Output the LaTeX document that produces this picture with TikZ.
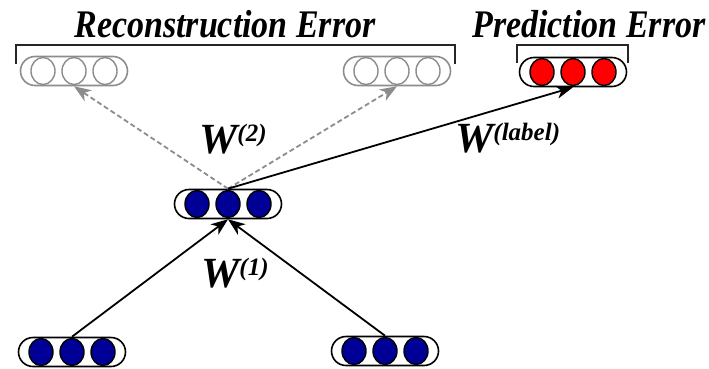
\documentclass[tikz,border=0pt]{standalone}
\usepackage{fontspec}
\setmainfont{Liberation Serif}
\usetikzlibrary{shapes.misc,shapes.geometric,arrows.meta}
\definecolor{unitblue}{RGB}{0,0,150}
\definecolor{unitred}{RGB}{255,0,0}
\definecolor{ghost}{RGB}{140,140,140}
\newcommand\mklayer[5]{%
  \node[#4] (#1) at (#2,#3) {};
  \node[#5] (#1a) at (#2-31,#3) {};
  \node[#5] (#1b) at (#2,#3) {};
  \node[#5] (#1c) at (#2+31,#3) {};
}
\newcommand\wlabel[1]{{\fontsize{43}{43}\selectfont W}\raisebox{12pt}{\fontsize{25}{25}\selectfont #1}}
\newcommand\tallbox[1]{\scalebox{1}[1.15]{#1}}
\begin{document}
\begin{tikzpicture}[x=1pt,y=-1pt,
  layerbox/.style={rounded rectangle, draw=black, line width=1.6pt, minimum width=107pt, minimum height=29pt, inner sep=0pt},
  ghostbox/.style={layerbox, draw=ghost},
  unit/.style={ellipse, draw=black, line width=1.4pt, minimum width=24pt, minimum height=27pt, inner sep=0pt, fill=unitblue},
  redunit/.style={unit, fill=unitred},
  ghostunit/.style={unit, draw=ghost, fill=white},
  title/.style={font=\fontsize{34}{34}\selectfont\bfseries\itshape, inner sep=0pt, anchor=base},
  wtext/.style={font=\bfseries\itshape, inner sep=0pt, anchor=base west},
  bracket/.style={line width=1.8pt, draw=black!85},
  conn/.style={line width=1.8pt, -{Stealth[length=17pt,width=13pt,inset=5pt]}},
  dconn/.style={conn, draw=ghost, dash pattern=on 5pt off 3pt, -{Stealth[length=17pt,width=13pt,inset=5pt,fill=ghost]}},
]
\useasboundingbox (0,0) rectangle (709,368);
\mklayer{bl}{72}{352}{layerbox}{unit}
\mklayer{br}{385}{351}{layerbox}{unit}
\mklayer{m}{228}{204}{layerbox}{unit}
\mklayer{tl}{74}{71}{ghostbox}{ghostunit}
\mklayer{tr}{397}{71}{ghostbox}{ghostunit}
\mklayer{pr}{573}{72}{layerbox}{redunit}
\node[title] (rtitle) at (225,37) {\tallbox{Reconstruction Error}};
\node[title] (ptitle) at (589,37) {\tallbox{Prediction Error}};
\coordinate (rb1) at (16,64);
\coordinate (rb2) at (16,45);
\coordinate (rb3) at (455,45);
\coordinate (rb4) at (455,64);
\draw[bracket] (rb1) -- (rb2) -- (rb3) -- (rb4);
\coordinate (pb1) at (517,63);
\coordinate (pb2) at (517,45);
\coordinate (pb3) at (628,45);
\coordinate (pb4) at (628,63);
\draw[bracket] (pb1) -- (pb2) -- (pb3) -- (pb4);
\draw[dconn] (m.north) -- (tl.south);
\draw[dconn] (m.north) -- (tr.south);
\draw[conn] (m.north) -- (pr.south);
\draw[conn] (bl.north) -- (m.south);
\draw[conn] (br.north) -- (m.south);
\node[wtext] (w2) at (199,153) {\wlabel{(2)}};
\node[wtext] (wl) at (455,152) {\wlabel{(label)}};
\node[wtext] (w1) at (201,287) {\wlabel{(1)}};
\end{tikzpicture}
\end{document}
